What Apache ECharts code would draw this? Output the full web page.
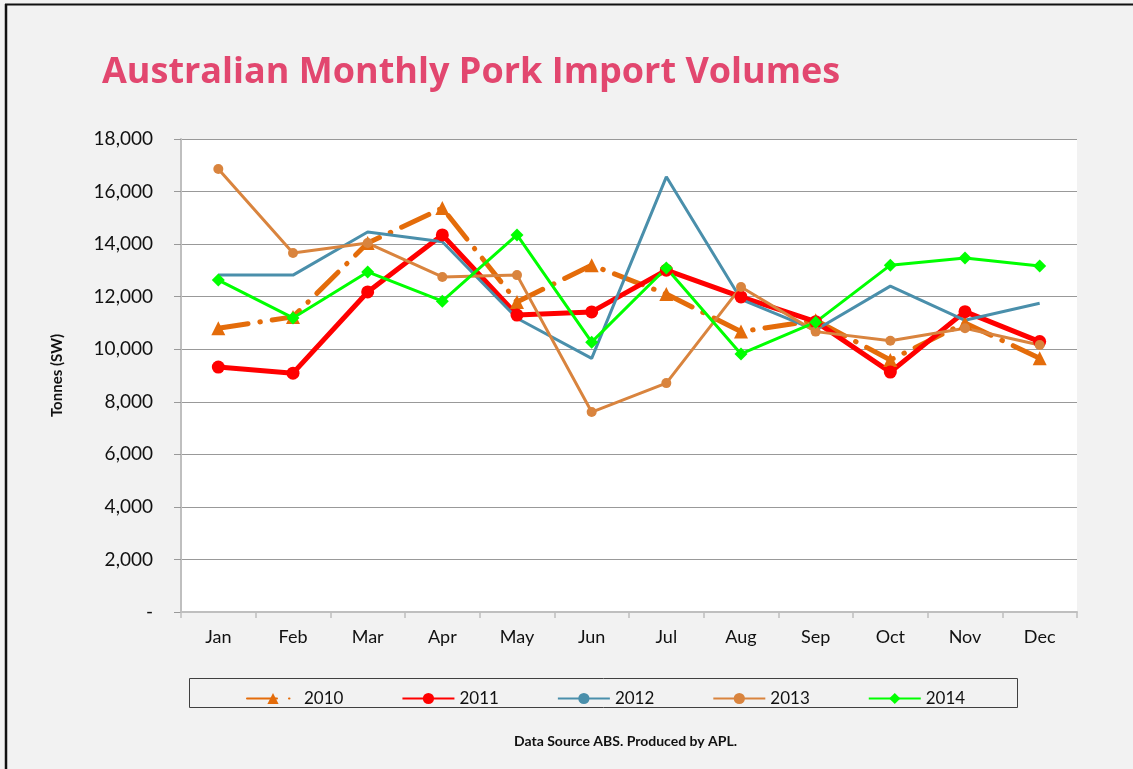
<!DOCTYPE html>
<html>
<head>
<meta charset="utf-8">
<script src="https://cdn.jsdelivr.net/npm/echarts@6/dist/echarts.min.js"></script>
<style>
  html, body { margin: 0; padding: 0; background: #f2f2f2; }
  #chart { width: 1133px; height: 769px; }
</style>
</head>
<body>
<div id="chart"></div>
<script>
// months on the x axis
const months = ['Jan', 'Feb', 'Mar', 'Apr', 'May', 'Jun', 'Jul', 'Aug', 'Sep', 'Oct', 'Nov', 'Dec'];

// tonnes (SW) per month
const y2010 = [10800, 11230, 14040, 15370, 11800, 13200, 12100, 10670, 11100, 9590, 11000, 9660];
const y2011 = [9320, 9090, 12180, 14350, 11300, 11420, 13010, 11990, 11050, 9130, 11430, 10290];
const y2012 = [12820, 12820, 14460, 14090, 11180, 9650, 16560, 11900, 10730, 12400, 11100, 11750];
const y2013 = [16860, 13660, 14040, 12750, 12820, 7610, 8710, 12370, 10670, 10320, 10800, 10160];
const y2014 = [12630, 11190, 12940, 11830, 14350, 10270, 13090, 9820, 11030, 13200, 13470, 13170];

const font = 'Lato, "Open Sans", sans-serif';

const chart = echarts.init(document.getElementById('chart'));

const option = {
  animation: false,
  backgroundColor: '#f2f2f2',
  title: {
    text: 'Australian Monthly Pork Import Volumes',
    left: 97,
    top: 50,
    textStyle: {
      color: '#e2476f',
      fontFamily: '"Open Sans", Lato, sans-serif',
      fontWeight: 'bold',
      fontSize: 36
    }
  },
  legend: {
    left: 241,
    top: 685,
    itemWidth: 52,
    itemHeight: 14,
    itemGap: 58,
    textStyle: { fontFamily: font, fontSize: 17, color: '#111' },
    data: ['2010', '2011', '2012', '2013', '2014']
  },
  grid: {
    left: 181,
    top: 139,
    right: 56,
    bottom: 157,
    show: true,
    backgroundColor: '#ffffff',
    borderWidth: 0
  },
  xAxis: {
    type: 'category',
    data: months,
    boundaryGap: true,
    axisLine: { lineStyle: { color: '#bfbfbf', width: 2 } },
    axisTick: { show: true, length: 6, lineStyle: { color: '#bfbfbf', width: 1.5 } },
    axisLabel: { color: '#111', fontFamily: font, fontSize: 18, margin: 16 }
  },
  yAxis: {
    type: 'value',
    min: 0,
    max: 18000,
    interval: 2000,
    name: 'Tonnes (SW)',
    nameLocation: 'middle',
    nameGap: 116,
    nameTextStyle: { color: '#111', fontFamily: font, fontWeight: 'bold', fontSize: 15 },
    axisLine: { show: true, lineStyle: { color: '#bfbfbf', width: 2 } },
    axisTick: { show: true, length: 7, lineStyle: { color: '#999', width: 1 } },
    axisLabel: {
      color: '#111',
      fontFamily: font,
      fontSize: 19,
      margin: 28,
      formatter: function (v) {
        return v === 0 ? '-' : v.toLocaleString('en-US');
      }
    },
    splitLine: { lineStyle: { color: '#999', width: 1 } }
  },
  series: [
    {
      name: '2010',
      type: 'line',
      data: y2010,
      color: '#e46c0a',
      symbol: 'triangle',
      symbolSize: 14,
      lineStyle: { width: 5, type: [30, 12, 0.5, 12], cap: 'round' }
    },
    {
      name: '2011',
      type: 'line',
      data: y2011,
      color: '#ff0000',
      symbol: 'circle',
      symbolSize: 13,
      lineStyle: { width: 5 }
    },
    {
      name: '2012',
      type: 'line',
      data: y2012,
      color: '#4a8fab',
      symbol: 'none',
      showSymbol: false,
      lineStyle: { width: 3 }
    },
    {
      name: '2013',
      type: 'line',
      data: y2013,
      color: '#d9843e',
      symbol: 'circle',
      symbolSize: 10,
      lineStyle: { width: 3 }
    },
    {
      name: '2014',
      type: 'line',
      data: y2014,
      color: '#00ff00',
      symbol: 'diamond',
      symbolSize: 13,
      lineStyle: { width: 3 }
    }
  ],
  graphic: [
    { type: 'line', shape: { x1: 5, y1: 4.5, x2: 1133, y2: 4.5 }, style: { stroke: '#111', lineWidth: 2 } },
    { type: 'line', shape: { x1: 6, y1: 4, x2: 6, y2: 769 }, style: { stroke: '#111', lineWidth: 2.5 } },
    { type: 'rect', shape: { x: 189.5, y: 678.5, width: 828, height: 29 }, style: { fill: 'none', stroke: '#404040', lineWidth: 1 } },
    {
      type: 'text',
      left: 514,
      top: 734,
      style: {
        text: 'Data Source ABS. Produced by APL.',
        fill: '#111',
        font: 'bold 14px ' + font
      }
    }
  ]
};

chart.setOption(option);
</script>
</body>
</html>
